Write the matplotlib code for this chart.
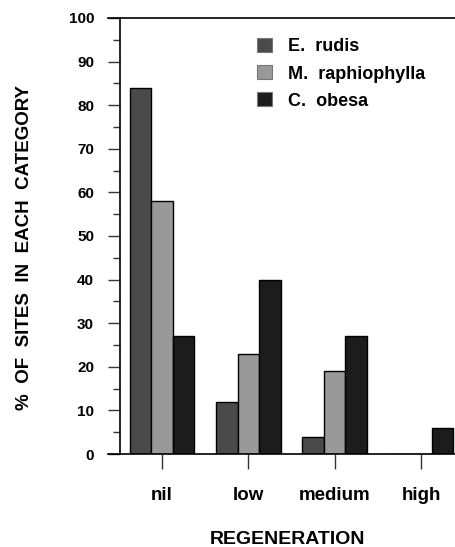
import matplotlib.pyplot as plt
from matplotlib.patches import Patch
import numpy as np

plt.rcParams['font.family'] = ['Liberation Sans', 'DejaVu Sans']
plt.rcParams['font.weight'] = 'bold'

categories = ['nil', 'low', 'medium', 'high']
species = ['E.  rudis', 'M.  raphiophylla', 'C.  obesa']
e_rudis = [84, 12, 4, 0]
m_raphiophylla = [58, 23, 19, 0]
c_obesa = [27, 40, 27, 6]
colors = ['#4a4a4a', '#999999', '#1c1c1c']

fig = plt.figure(figsize=(4.55, 5.47), dpi=100)
ax = fig.add_axes([120 / 455, 1 - 454 / 547, 335 / 455, 436 / 547])

x = np.arange(len(categories))
w = 0.25
for i, vals in enumerate([e_rudis, m_raphiophylla, c_obesa]):
    ax.bar(x + (i - 1) * w, vals, w, color=colors[i], edgecolor='black',
           linewidth=1.0, zorder=2)

ax.set_xlim(-0.4865, 3.394)
ax.set_ylim(0, 100)

# axis frame: only the left spine, plus long lines at 0 and 100
for s in ['top', 'right', 'bottom']:
    ax.spines[s].set_visible(False)
ax.spines['left'].set_linewidth(1.2)
for yv in [0, 100]:
    ax.plot([-0.625, 3.394], [yv, yv], color='black', lw=1.2,
            clip_on=False, zorder=3)

ax.set_yticks(np.arange(0, 101, 10))
ax.set_yticks(np.arange(5, 100, 10), minor=True)
ax.tick_params(axis='y', which='major', length=8.6, width=1, color='#333333',
               labelsize=11, pad=10)
ax.tick_params(axis='y', which='minor', length=5, width=1, color='#333333')
ax.set_xticks(x)
ax.set_xticklabels(categories)
ax.tick_params(axis='x', length=11, width=1, color='#333333',
               labelsize=13.5, pad=13)
for lab in ax.get_xticklabels() + ax.get_yticklabels():
    lab.set_fontweight('bold')

ax.set_xlabel('REGENERATION', fontsize=14, fontweight='bold', labelpad=19)
fig.text(25 / 455, 1 - 247 / 547, '%  OF  SITES  IN  EACH  CATEGORY',
         rotation=90, fontsize=13.5, fontweight='bold', ha='center', va='center')

handles = [Patch(facecolor=c, edgecolor='#777777', linewidth=0.8) for c in colors]
leg = ax.legend(handles, species, loc='upper left',
                bbox_to_anchor=((250 - 120) / 335, (454 - 31) / 436),
                frameon=False, fontsize=13, handlelength=0.8, handleheight=0.8,
                handletextpad=0.9, labelspacing=0.55, borderaxespad=0)
for t in leg.get_texts():
    t.set_fontweight('bold')

fig.savefig('out.png', dpi=100)
